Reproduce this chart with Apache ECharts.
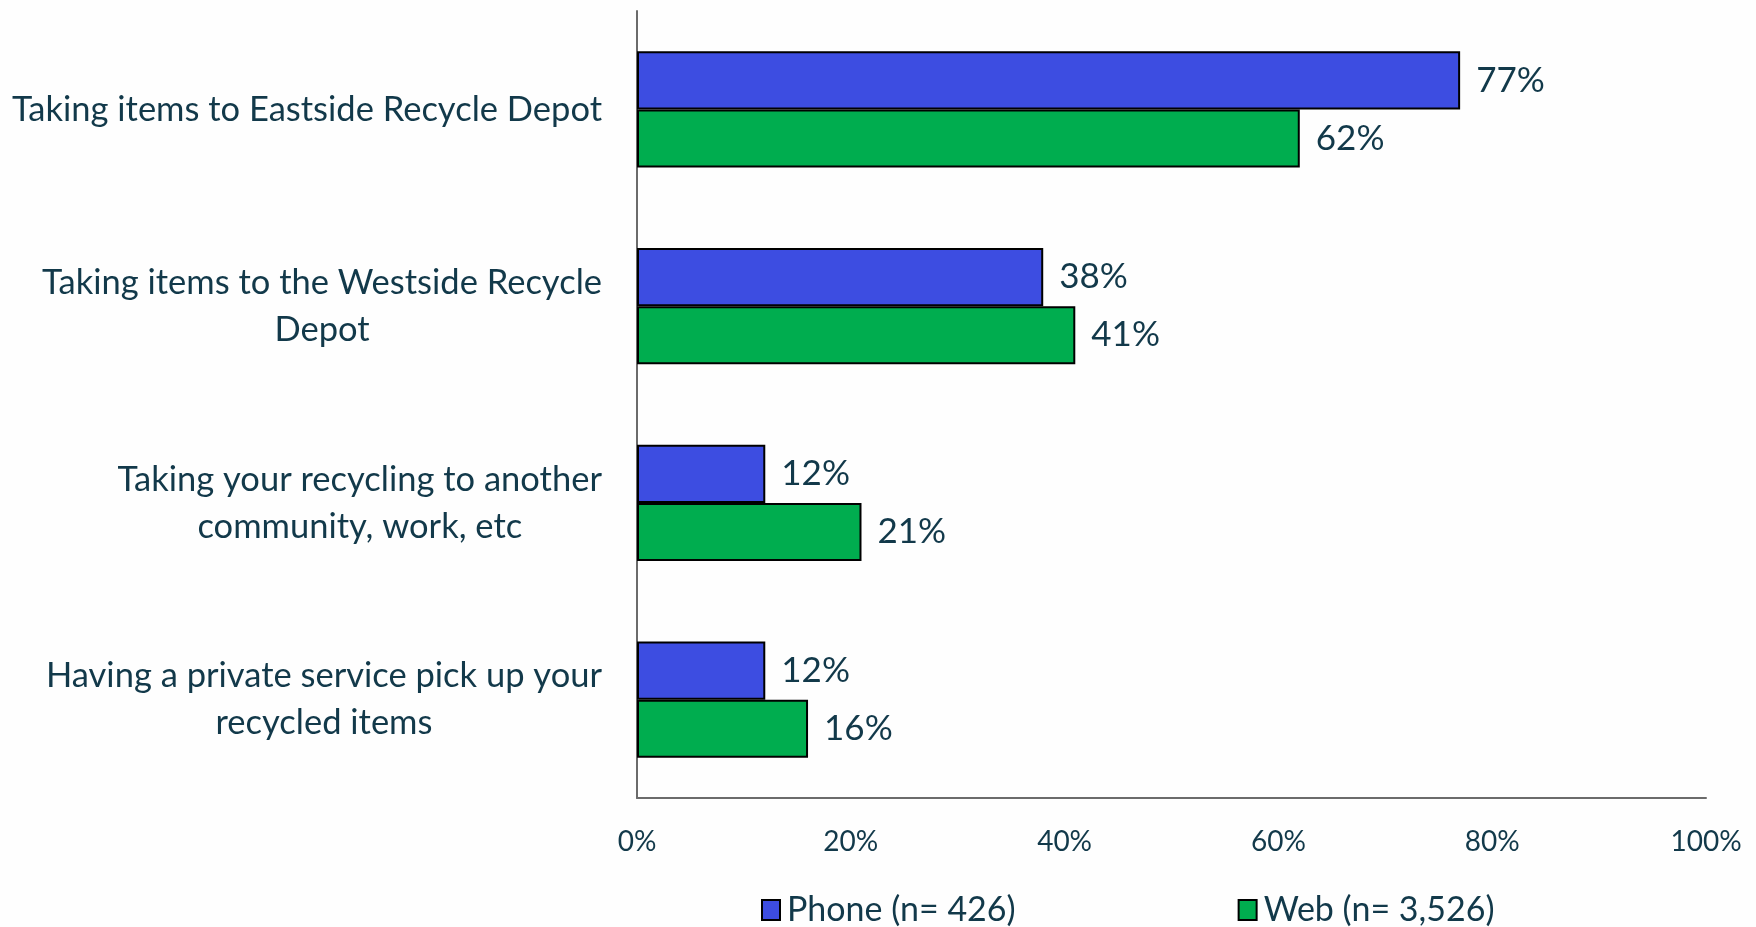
<!DOCTYPE html>
<html>
<head>
<meta charset="utf-8">
<script src="https://cdn.jsdelivr.net/npm/echarts@6/dist/echarts.min.js"></script>
<style>
html,body{margin:0;padding:0;background:#fefefe;}
#chart{width:1756px;height:927px;}
</style>
</head>
<body>
<div id="chart"></div>
<script>
const categories = [
  'Taking items to Eastside Recycle Depot',
  'Taking items to the Westside Recycle\nDepot',
  'Taking your recycling to another\ncommunity, work, etc',
  'Having a private service pick up your\nrecycled items'
];
const seriesNames = ['Phone (n= 426)', 'Web (n= 3,526)'];
const phoneValues = [77, 38, 12, 12];
const webValues = [62, 41, 21, 16];
const xTicks = [0, 20, 40, 60, 80, 100];

const textColor = '#12394a';
const fontFamily = 'Lato, "Open Sans", sans-serif';

const chart = echarts.init(document.getElementById('chart'));
const option = {
  backgroundColor: '#fefefe',
  animation: false,
  grid: { left: 637, right: 50, top: 11, bottom: 129, containLabel: false },
  legend: {
    data: seriesNames,
    left: 756,
    top: 888,
    icon: 'rect',
    itemWidth: 18,
    itemHeight: 20,
    itemGap: 222,
    itemStyle: { borderColor: '#000', borderWidth: 2 },
    textStyle: { color: textColor, fontSize: 34, fontFamily: fontFamily, padding: [0, 0, 0, 2] }
  },
  xAxis: {
    type: 'value',
    min: 0,
    max: 100,
    interval: 20,
    axisLine: { show: true, lineStyle: { color: '#6b6b6b', width: 2 } },
    axisTick: { show: false },
    splitLine: { show: false },
    axisLabel: {
      margin: 30,
      color: textColor,
      fontSize: 28,
      fontFamily: fontFamily,
      formatter: function (v) { return xTicks.indexOf(v) >= 0 ? v + '%' : ''; }
    }
  },
  yAxis: {
    type: 'category',
    data: categories,
    inverse: true,
    axisLine: { show: true, lineStyle: { color: '#6b6b6b', width: 2 } },
    axisTick: { show: false },
    axisLabel: {
      margin: 35,
      color: textColor,
      fontSize: 34.5,
      fontFamily: fontFamily,
      lineHeight: 47,
      formatter: function (v) {
        return v.split('\n').map(function (l) { return '{c|' + l + '}'; }).join('\n');
      },
      rich: {
        c: { align: 'center', color: textColor, fontSize: 34.5, fontFamily: fontFamily, lineHeight: 47 }
      }
    }
  },
  series: [
    {
      name: seriesNames[0],
      type: 'bar',
      data: phoneValues,
      barGap: '0%',
      barCategoryGap: '41%',
      itemStyle: { color: '#3d4de1', borderColor: '#000', borderWidth: 2 },
      label: {
        show: true, position: 'right', distance: 16,
        formatter: '{c}%', color: textColor, fontSize: 35, fontFamily: fontFamily
      }
    },
    {
      name: seriesNames[1],
      type: 'bar',
      data: webValues,
      barGap: '0%',
      barCategoryGap: '41%',
      itemStyle: { color: '#00ad4f', borderColor: '#000', borderWidth: 2 },
      label: {
        show: true, position: 'right', distance: 16,
        formatter: '{c}%', color: textColor, fontSize: 35, fontFamily: fontFamily
      }
    }
  ]
};
chart.setOption(option);
</script>
</body>
</html>
